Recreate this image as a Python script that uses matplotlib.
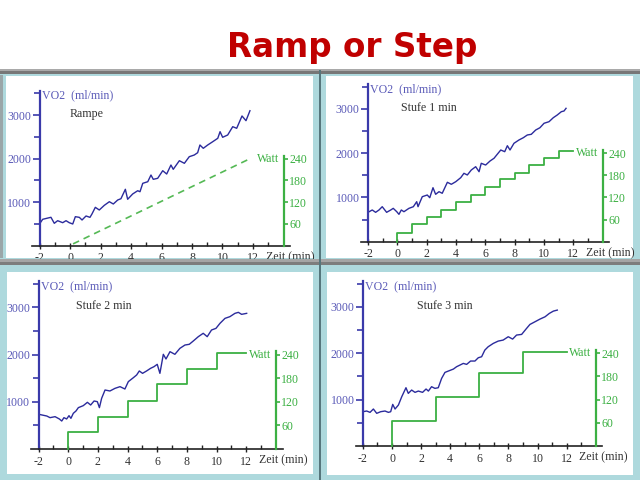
import matplotlib
matplotlib.use("Agg")
import matplotlib.pyplot as plt
from matplotlib.patches import Rectangle
from matplotlib.ticker import FixedLocator

plt.rcParams["font.family"] = ["Liberation Serif", "DejaVu Serif"]
plt.rcParams["axes.unicode_minus"] = False

# ------------------------------------------------------------------
# data
# ------------------------------------------------------------------
x_major = [-2, 0, 2, 4, 6, 8, 10, 12]
x_minor = [-1, 1, 3, 5, 7, 9, 11, 13]
vo2_ticks = [1000, 2000, 3000]
vo2_minor = [500, 1500, 2500, 3500]
watt_ticks = [60, 120, 180, 240]

# Rampe
ramp_t = [-2.0, -1.79, -1.25, -1.03, -0.81, -0.48, -0.26, -0.05, 0.18, 0.35,
          0.61, 0.79, 1.05, 1.31, 1.44, 1.66, 1.92, 2.25, 2.58, 2.84,
          3.13, 3.34, 3.63, 3.78, 4.11, 4.44, 4.59, 4.77, 5.10, 5.31,
          5.46, 5.75, 6.08, 6.34, 6.62, 6.77, 7.17, 7.50, 7.82, 8.15,
          8.37, 8.52, 8.74, 9.03, 9.36, 9.69, 9.84, 10.01, 10.34, 10.67,
          10.93, 11.28, 11.54, 11.80]
ramp_vo2 = [500, 607, 653, 515, 575, 529, 575, 529, 499, 667,
            652, 591, 683, 652, 729, 882, 821, 928, 1011, 959,
            1051, 1080, 1297, 1067, 1189, 1264, 1241, 1434, 1471, 1625,
            1526, 1549, 1724, 1648, 1855, 1756, 1954, 1894, 2046, 2085,
            2138, 2315, 2239, 2315, 2391, 2469, 2621, 2492, 2545, 2736,
            2699, 2982, 2874, 3103]
ramp_watt_t = [0.2, 11.8]
ramp_watt = [5, 240]

# Stufe 1 min
s1_t = [-2.0, -1.71, -1.48, -1.25, -1.03, -0.73, -0.45, -0.28, -0.04, 0.11,
        0.27, 0.45, 0.79, 1.09, 1.32, 1.41, 1.70, 2.04, 2.21, 2.43,
        2.61, 2.84, 3.06, 3.41, 3.68, 3.98, 4.32, 4.54, 4.77, 5.04,
        5.34, 5.57, 5.72, 6.02, 6.32, 6.59, 6.81, 7.05, 7.32, 7.50,
        7.68, 7.95, 8.29, 8.59, 8.86, 9.13, 9.43, 9.72, 10.0, 10.34,
        10.63, 10.90, 11.18, 11.36, 11.50]
s1_vo2 = [663, 716, 663, 716, 790, 663, 716, 753, 677, 618,
          716, 677, 753, 790, 903, 790, 1016, 1054, 993, 1219,
          1070, 1129, 1093, 1341, 1296, 1354, 1445, 1544, 1506, 1618,
          1693, 1580, 1770, 1731, 1822, 1883, 1973, 2070, 2032, 2167,
          2070, 2221, 2296, 2348, 2409, 2424, 2521, 2573, 2673, 2709,
          2799, 2860, 2935, 2950, 3011]
s1_step_t = [0, 0, 1, 2, 3, 4, 5, 6, 7, 8, 9, 10, 11, 12]
s1_step_w = [0, 24, 48, 68, 87, 107, 127, 148, 169, 187, 207, 226, 246, 246]

# Stufe 2 min
s2_t = [-1.97, -1.45, -1.23, -0.89, -0.60, -0.44, -0.29, -0.11, 0.05, 0.18,
        0.34, 0.52, 0.68, 1.01, 1.29, 1.51, 1.74, 1.96, 2.10, 2.25,
        2.48, 2.81, 3.15, 3.49, 3.82, 4.05, 4.39, 4.61, 4.79, 5.01,
        5.28, 5.55, 5.78, 6.00, 6.18, 6.41, 6.59, 6.86, 7.19, 7.53,
        7.87, 8.16, 8.43, 8.77, 9.10, 9.37, 9.66, 9.96, 10.23, 10.57,
        10.90, 11.24, 11.47, 11.69, 12.03]
s2_vo2 = [734, 699, 664, 685, 636, 593, 664, 636, 706, 650,
          756, 805, 876, 918, 989, 932, 1017, 1003, 876, 1073,
          1250, 1229, 1285, 1321, 1271, 1427, 1511, 1568, 1653, 1603,
          1653, 1709, 1744, 1794, 1603, 2006, 1907, 2062, 2006, 2133,
          2203, 2218, 2288, 2380, 2451, 2380, 2521, 2556, 2662, 2768,
          2804, 2874, 2895, 2853, 2874]
s2_step_t = [0, 0, 2, 4, 6, 8, 10, 12]
s2_step_w = [0, 42, 82, 123, 164, 204, 243, 243]

# Stufe 3 min
s3_t = [-2.0, -1.74, -1.51, -1.28, -1.05, -0.78, -0.48, -0.25, -0.09, 0.05,
        0.21, 0.44, 0.67, 0.96, 1.12, 1.35, 1.58, 1.81, 2.10, 2.34,
        2.50, 2.72, 2.95, 3.18, 3.41, 3.64, 3.87, 4.22, 4.44, 4.67,
        4.90, 5.13, 5.40, 5.70, 5.93, 6.16, 6.38, 6.61, 6.96, 7.30,
        7.64, 7.99, 8.29, 8.56, 8.91, 9.21, 9.48, 9.83, 10.17, 10.52,
        10.81, 11.09, 11.36]
s3_vo2 = [739, 754, 725, 797, 704, 739, 754, 725, 739, 897,
          797, 883, 1062, 1256, 1134, 1206, 1156, 1184, 1156, 1228,
          1184, 1278, 1242, 1256, 1457, 1586, 1615, 1658, 1709, 1744,
          1780, 1759, 1831, 1831, 1902, 1924, 2067, 2139, 2211, 2261,
          2283, 2355, 2304, 2391, 2405, 2520, 2620, 2678, 2735, 2785,
          2857, 2907, 2929]
s3_step_t = [0, 0, 3, 6, 9, 12]
s3_step_w = [0, 65, 128, 188, 243, 243]

# ------------------------------------------------------------------
# styling
# ------------------------------------------------------------------
W, H = 640, 480
FRAME = "#aed9dd"
VO2_BLUE = "#2b2b9c"
AXIS_BLUE = "#3a3aaa"
LABEL_BLUE = "#5b5bb8"
GREEN = "#3cb043"
TEXT = "#333333"
FS = 8.6
WATT_PER_VO2 = 240 / 2000

fig = plt.figure(figsize=(6.4, 4.8), dpi=100)
fig.patch.set_facecolor("white")


def fig_rect(x0, y0, x1, y1, color, z):
    """rectangle given in pixel coords (origin top-left)"""
    r = Rectangle((x0 / W, 1 - y1 / H), (x1 - x0) / W, (y1 - y0) / H,
                  transform=fig.transFigure, facecolor=color,
                  edgecolor="none", zorder=z)
    fig.add_artist(r)


# slide background
fig_rect(0, 72, 640, 480, FRAME, -2)
fig_rect(0, 75, 2.5, 258, "#9aa6a8", -1)
fig_rect(0, 69, 640, 71, "#a9a9a9", 5)
fig_rect(0, 71, 640, 74, "#777777", 5)
fig_rect(0, 258.5, 640, 261.5, "#a5a5a5", 5)
fig_rect(0, 261.5, 640, 265, "#7d7d7d", 5)
fig_rect(319, 70, 321, 480, "#56767c", 6)

fig.text(352 / W, 1 - 56.5 / H, "Ramp or Step", ha="center", va="baseline",
         fontsize=23.5, fontweight="bold", color="#c00000",
         family=["DejaVu Sans"])


def draw_panel(rect, p0x, sx, q0y, sy, t, vo2, wt, ww, name, name_x,
               dashed=False):
    x0, y0, x1, y1 = rect
    ax = fig.add_axes([x0 / W, 1 - y1 / H, (x1 - x0) / W, (y1 - y0) / H])
    xlim = (-2 + (x0 - p0x) / sx, -2 + (x1 - p0x) / sx)
    ylim = ((q0y - y1) / sy * 1000, (q0y - y0) / sy * 1000)
    ax.set_xlim(*xlim)
    ax.set_ylim(*ylim)
    ax.set_facecolor("white")

    ax.spines["top"].set_visible(False)
    ax.spines["right"].set_visible(False)
    ax.spines["left"].set_position(("data", -2))
    ax.spines["left"].set_bounds(0, 3560)
    ax.spines["left"].set_color(AXIS_BLUE)
    ax.spines["left"].set_linewidth(1.6)
    ax.spines["bottom"].set_position(("data", 0))
    ax.spines["bottom"].set_bounds(-2.5, 14.45)
    ax.spines["bottom"].set_color("#222222")
    ax.spines["bottom"].set_linewidth(1.2)

    ax.xaxis.set_major_locator(FixedLocator(x_major))
    ax.xaxis.set_minor_locator(FixedLocator(x_minor))
    ax.yaxis.set_major_locator(FixedLocator(vo2_ticks))
    ax.yaxis.set_minor_locator(FixedLocator(vo2_minor))
    ax.tick_params(axis="x", which="major", direction="inout", length=5,
                   width=1, color="#222222", labelsize=FS, pad=2.2,
                   labelcolor=TEXT)
    ax.tick_params(axis="x", which="minor", direction="in", length=3,
                   width=1, color="#222222")
    ax.tick_params(axis="y", which="major", direction="out", length=5,
                   width=1.2, color=AXIS_BLUE, labelcolor=LABEL_BLUE,
                   labelsize=FS, pad=1)
    ax.tick_params(axis="y", which="minor", direction="out", length=4,
                   width=1.2, color=AXIS_BLUE)

    ax.plot(t, vo2, color=VO2_BLUE, lw=1.0)

    ax.annotate("VO2  (ml/min)", xy=(-2, 3450), xytext=(1.5, 0),
                textcoords="offset points", ha="left", va="center",
                fontsize=FS, color=LABEL_BLUE)
    ax.text(name_x, 3020, name, ha="left", va="center", fontsize=FS,
            color=TEXT)
    ax.annotate("Zeit (min)", xy=(12.85, 0), xytext=(0, -8.4),
                textcoords="offset points", ha="left", va="center",
                fontsize=FS, color=TEXT)

    # watt axis
    ax2 = ax.twinx()
    ax2.set_ylim(ylim[0] * WATT_PER_VO2, ylim[1] * WATT_PER_VO2)
    for s in ["top", "left", "bottom"]:
        ax2.spines[s].set_visible(False)
    ax2.spines["right"].set_position(("data", 14))
    ax2.spines["right"].set_bounds(0, 248)
    ax2.spines["right"].set_color(GREEN)
    ax2.spines["right"].set_linewidth(1.6)
    ax2.yaxis.set_major_locator(FixedLocator(watt_ticks))
    ax2.tick_params(axis="y", direction="out", length=3, width=1.2,
                    color=GREEN, labelcolor=GREEN, labelsize=FS, pad=1)

    if dashed:
        ax2.plot(wt, ww, color="#55b955", lw=1.2, dashes=(4, 3))
    else:
        ax2.step(wt, ww, where="post", color=GREEN, lw=1.3)
    ax2.text(13.72, 240, "Watt", ha="right", va="center", fontsize=FS,
             color=GREEN)


draw_panel((6, 76, 313, 258), 39.5, 15.25, 245.7, 43.5,
           ramp_t, ramp_vo2, ramp_watt_t, ramp_watt, "Rampe", 0.0,
           dashed=True)
draw_panel((326, 76, 633, 258), 368.0, 14.67, 241.7, 44.3,
           s1_t, s1_vo2, s1_step_t, s1_step_w, "Stufe 1 min", 0.25)
draw_panel((7, 272, 313, 474), 38.6, 14.83, 449.0, 47.2,
           s2_t, s2_vo2, s2_step_t, s2_step_w, "Stufe 2 min", 0.52)
draw_panel((327, 272, 633, 475), 362.9, 14.55, 446.0, 46.4,
           s3_t, s3_vo2, s3_step_t, s3_step_w, "Stufe 3 min", 1.74)

fig.savefig("out.png", dpi=100)
